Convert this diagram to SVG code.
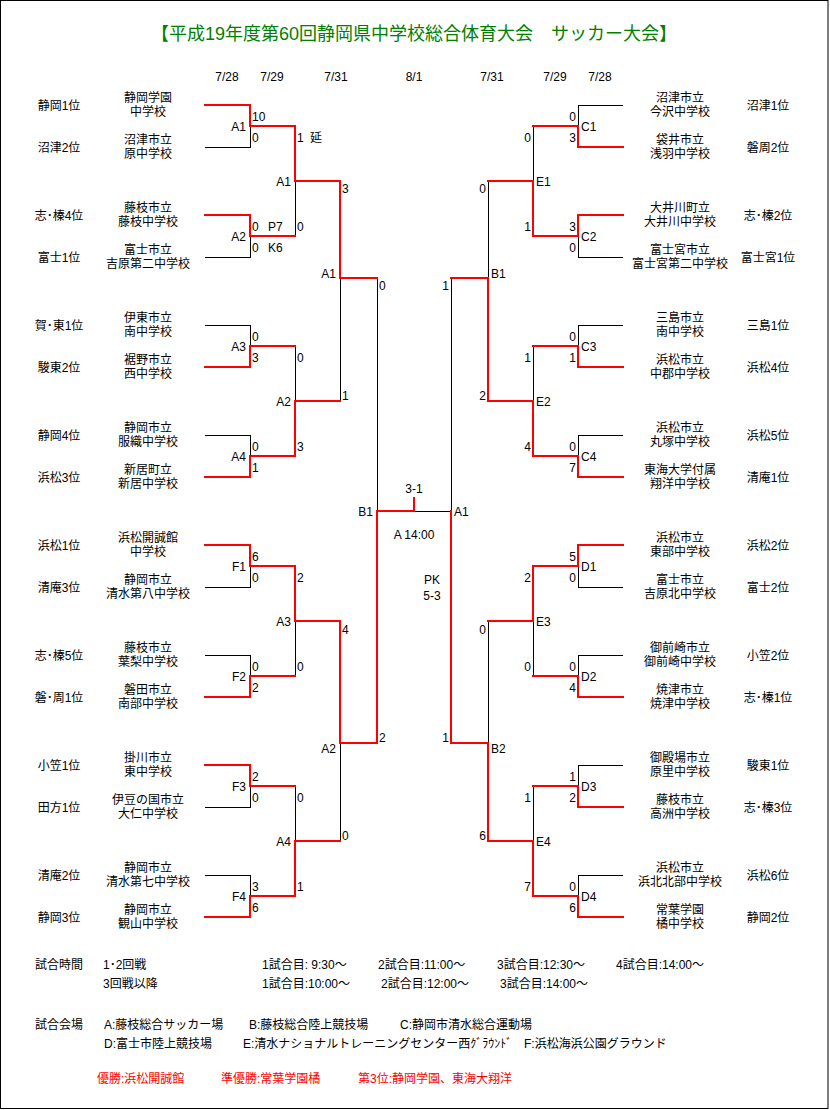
<svg xmlns="http://www.w3.org/2000/svg" width="830" height="1110" viewBox="0 0 830 1110">
<style>
text{font-family:"Liberation Sans","Noto Sans CJK JP",sans-serif;font-size:12px;fill:#000}
.m{text-anchor:middle}
.e{text-anchor:end}
.ttl{font-size:18px;fill:#008000;text-anchor:middle}
.red{fill:#ff0000}
.k{fill:none;stroke:#000;stroke-width:1}
.r{fill:none;stroke:#ff0000;stroke-width:2;stroke-linecap:square}
</style>
<rect x="0" y="0" width="830" height="1110" fill="#fff"/>
<rect x="0.5" y="0.5" width="827.5" height="1108" fill="none" stroke="#000" stroke-width="1"/>
<text id="title" class="ttl" x="414" y="40">【平成19年度第60回静岡県中学校総合体育大会　サッカー大会】</text>
<g id="dates" class="m">
<text class="m" x="227" y="81">7/28</text><text class="m" x="272" y="81">7/29</text><text class="m" x="336" y="81">7/31</text><text class="m" x="414" y="81">8/1</text>
<text class="m" x="492" y="81">7/31</text><text class="m" x="555" y="81">7/29</text><text class="m" x="600" y="81">7/28</text>
</g>
<g id="connectors" shape-rendering="crispEdges">
<path class="k" d="M205,147H250V126 M205,257H250V236 M205,325H250V346 M205,435H250V456 M205,587H250V566 M205,655H250V676 M205,807H250V786 M205,875H250V896
M295,236V181 M295,346V401 M295,676V621 M295,786V841 M340,401V278 M340,841V743 M377,278V511 M414,511H451
M623,105H578V126 M623,257H578V236 M623,325H578V346 M623,435H578V456 M623,587H578V566 M623,655H578V676 M623,765H578V786 M623,875H578V896
M533,126V181 M533,346V401 M533,676V621 M533,786V841 M488,181V278 M488,621V743 M451,278V511"/>
<path class="r" d="M205,105H250V126H295 M205,215H250V236H295 M205,367H250V346H295 M205,477H250V456H295 M205,545H250V566H295 M205,697H250V676H295 M205,765H250V786H295 M205,917H250V896H295
M295,126V181H340 M295,456V401H340 M295,566V621H340 M295,896V841H340 M340,181V278H377 M340,621V743H377 M377,743V511H414V498
M623,147H578V126H533 M623,215H578V236H533 M623,367H578V346H533 M623,477H578V456H533 M623,545H578V566H533 M623,697H578V676H533 M623,807H578V786H533 M623,917H578V896H533
M533,236V181H488 M533,456V401H488 M533,566V621H488 M533,896V841H488 M488,401V278H451 M488,841V743H451 M451,743V511"/>
</g>
<g id="teams-left">
<g id="L1"><text class="m" x="59" y="110">静岡1位</text><text class="m" x="148" y="102">静岡学園</text><text class="m" x="148" y="116">中学校</text></g>
<g id="L2"><text class="m" x="59" y="152">沼津2位</text><text class="m" x="148" y="144">沼津市立</text><text class="m" x="148" y="158">原中学校</text></g>
<g id="L3"><text class="m" x="59" y="220">志･榛4位</text><text class="m" x="148" y="212">藤枝市立</text><text class="m" x="148" y="226">藤枝中学校</text></g>
<g id="L4"><text class="m" x="59" y="262">富士1位</text><text class="m" x="148" y="254">富士市立</text><text class="m" x="148" y="268">吉原第二中学校</text></g>
<g id="L5"><text class="m" x="59" y="330">賀･東1位</text><text class="m" x="148" y="322">伊東市立</text><text class="m" x="148" y="336">南中学校</text></g>
<g id="L6"><text class="m" x="59" y="372">駿東2位</text><text class="m" x="148" y="364">裾野市立</text><text class="m" x="148" y="378">西中学校</text></g>
<g id="L7"><text class="m" x="59" y="440">静岡4位</text><text class="m" x="148" y="432">静岡市立</text><text class="m" x="148" y="446">服織中学校</text></g>
<g id="L8"><text class="m" x="59" y="482">浜松3位</text><text class="m" x="148" y="474">新居町立</text><text class="m" x="148" y="488">新居中学校</text></g>
<g id="L9"><text class="m" x="59" y="550">浜松1位</text><text class="m" x="148" y="542">浜松開誠館</text><text class="m" x="148" y="556">中学校</text></g>
<g id="L10"><text class="m" x="59" y="592">清庵3位</text><text class="m" x="148" y="584">静岡市立</text><text class="m" x="148" y="598">清水第八中学校</text></g>
<g id="L11"><text class="m" x="59" y="660">志･榛5位</text><text class="m" x="148" y="652">藤枝市立</text><text class="m" x="148" y="666">葉梨中学校</text></g>
<g id="L12"><text class="m" x="59" y="702">磐･周1位</text><text class="m" x="148" y="694">磐田市立</text><text class="m" x="148" y="708">南部中学校</text></g>
<g id="L13"><text class="m" x="59" y="770">小笠1位</text><text class="m" x="148" y="762">掛川市立</text><text class="m" x="148" y="776">東中学校</text></g>
<g id="L14"><text class="m" x="59" y="812">田方1位</text><text class="m" x="148" y="804">伊豆の国市立</text><text class="m" x="148" y="818">大仁中学校</text></g>
<g id="L15"><text class="m" x="59" y="880">清庵2位</text><text class="m" x="148" y="872">静岡市立</text><text class="m" x="148" y="886">清水第七中学校</text></g>
<g id="L16"><text class="m" x="59" y="922">静岡3位</text><text class="m" x="148" y="914">静岡市立</text><text class="m" x="148" y="928">観山中学校</text></g>
</g>
<g id="teams-right">
<g id="R1"><text class="m" x="768" y="110">沼津1位</text><text class="m" x="680" y="102">沼津市立</text><text class="m" x="680" y="116">今沢中学校</text></g>
<g id="R2"><text class="m" x="768" y="152">磐周2位</text><text class="m" x="680" y="144">袋井市立</text><text class="m" x="680" y="158">浅羽中学校</text></g>
<g id="R3"><text class="m" x="768" y="220">志･榛2位</text><text class="m" x="680" y="212">大井川町立</text><text class="m" x="680" y="226">大井川中学校</text></g>
<g id="R4"><text class="m" x="768" y="262">富士宮1位</text><text class="m" x="680" y="254">富士宮市立</text><text class="m" x="680" y="268">富士宮第二中学校</text></g>
<g id="R5"><text class="m" x="768" y="330">三島1位</text><text class="m" x="680" y="322">三島市立</text><text class="m" x="680" y="336">南中学校</text></g>
<g id="R6"><text class="m" x="768" y="372">浜松4位</text><text class="m" x="680" y="364">浜松市立</text><text class="m" x="680" y="378">中郡中学校</text></g>
<g id="R7"><text class="m" x="768" y="440">浜松5位</text><text class="m" x="680" y="432">浜松市立</text><text class="m" x="680" y="446">丸塚中学校</text></g>
<g id="R8"><text class="m" x="768" y="482">清庵1位</text><text class="m" x="680" y="474">東海大学付属</text><text class="m" x="680" y="488">翔洋中学校</text></g>
<g id="R9"><text class="m" x="768" y="550">浜松2位</text><text class="m" x="680" y="542">浜松市立</text><text class="m" x="680" y="556">東部中学校</text></g>
<g id="R10"><text class="m" x="768" y="592">富士2位</text><text class="m" x="680" y="584">富士市立</text><text class="m" x="680" y="598">吉原北中学校</text></g>
<g id="R11"><text class="m" x="768" y="660">小笠2位</text><text class="m" x="680" y="652">御前崎市立</text><text class="m" x="680" y="666">御前崎中学校</text></g>
<g id="R12"><text class="m" x="768" y="702">志･榛1位</text><text class="m" x="680" y="694">焼津市立</text><text class="m" x="680" y="708">焼津中学校</text></g>
<g id="R13"><text class="m" x="768" y="770">駿東1位</text><text class="m" x="680" y="762">御殿場市立</text><text class="m" x="680" y="776">原里中学校</text></g>
<g id="R14"><text class="m" x="768" y="812">志･榛3位</text><text class="m" x="680" y="804">藤枝市立</text><text class="m" x="680" y="818">高洲中学校</text></g>
<g id="R15"><text class="m" x="768" y="880">浜松6位</text><text class="m" x="680" y="872">浜松市立</text><text class="m" x="680" y="886">浜北北部中学校</text></g>
<g id="R16"><text class="m" x="768" y="922">静岡2位</text><text class="m" x="680" y="914">常葉学園</text><text class="m" x="680" y="928">橘中学校</text></g>
</g>
<g id="matches-left-r1">
<g id="mA1"><text class="e" x="246" y="131">A1</text><text x="252" y="121">10</text><text x="252" y="142">0</text></g>
<g id="mA2"><text class="e" x="246" y="241">A2</text><text x="252" y="231">0</text><text x="268" y="231">P7</text><text x="252" y="252">0</text><text x="268" y="252">K6</text></g>
<g id="mA3"><text class="e" x="246" y="351">A3</text><text x="252" y="341">0</text><text x="252" y="362">3</text></g>
<g id="mA4"><text class="e" x="246" y="461">A4</text><text x="252" y="451">0</text><text x="252" y="472">1</text></g>
<g id="mF1"><text class="e" x="246" y="571">F1</text><text x="252" y="561">6</text><text x="252" y="582">0</text></g>
<g id="mF2"><text class="e" x="246" y="681">F2</text><text x="252" y="671">0</text><text x="252" y="692">2</text></g>
<g id="mF3"><text class="e" x="246" y="791">F3</text><text x="252" y="781">2</text><text x="252" y="802">0</text></g>
<g id="mF4"><text class="e" x="246" y="901">F4</text><text x="252" y="891">3</text><text x="252" y="912">6</text></g>
</g>
<g id="matches-left-r2">
<g id="mA1b"><text class="e" x="291" y="186">A1</text><text x="297" y="142">1</text><text x="310" y="142">延</text><text x="297" y="231">0</text></g>
<g id="mA2b"><text class="e" x="291" y="406">A2</text><text x="297" y="362">0</text><text x="297" y="451">3</text></g>
<g id="mA3b"><text class="e" x="291" y="626">A3</text><text x="297" y="582">2</text><text x="297" y="671">0</text></g>
<g id="mA4b"><text class="e" x="291" y="846">A4</text><text x="297" y="802">0</text><text x="297" y="891">1</text></g>
</g>
<g id="matches-left-r3">
<g id="mA1c"><text class="e" x="336" y="278">A1</text><text x="342" y="193">3</text><text x="342" y="400">1</text></g>
<g id="mA2c"><text class="e" x="336" y="753">A2</text><text x="342" y="634">4</text><text x="342" y="840">0</text></g>
<g id="mB1"><text class="e" x="373" y="516">B1</text><text x="379" y="290">0</text><text x="379" y="742">2</text></g>
</g>
<g id="final">
<text class="m" x="414" y="493">3-1</text>
<text class="m" x="414" y="539">A 14:00</text>
<text class="m" x="432" y="584">PK</text>
<text class="m" x="432" y="600">5-3</text>
</g>
<g id="matches-right-r1">
<g id="mC1"><text x="581" y="131">C1</text><text class="e" x="576" y="121">0</text><text class="e" x="576" y="142">3</text></g>
<g id="mC2"><text x="581" y="241">C2</text><text class="e" x="576" y="231">3</text><text class="e" x="576" y="252">0</text></g>
<g id="mC3"><text x="581" y="351">C3</text><text class="e" x="576" y="341">0</text><text class="e" x="576" y="362">1</text></g>
<g id="mC4"><text x="581" y="461">C4</text><text class="e" x="576" y="451">0</text><text class="e" x="576" y="472">7</text></g>
<g id="mD1"><text x="581" y="571">D1</text><text class="e" x="576" y="561">5</text><text class="e" x="576" y="582">0</text></g>
<g id="mD2"><text x="581" y="681">D2</text><text class="e" x="576" y="671">0</text><text class="e" x="576" y="692">4</text></g>
<g id="mD3"><text x="581" y="791">D3</text><text class="e" x="576" y="781">1</text><text class="e" x="576" y="802">2</text></g>
<g id="mD4"><text x="581" y="901">D4</text><text class="e" x="576" y="891">0</text><text class="e" x="576" y="912">6</text></g>
</g>
<g id="matches-right-r2">
<g id="mE1"><text x="536" y="186">E1</text><text class="e" x="531" y="142">0</text><text class="e" x="531" y="231">1</text></g>
<g id="mE2"><text x="536" y="406">E2</text><text class="e" x="531" y="362">1</text><text class="e" x="531" y="451">4</text></g>
<g id="mE3"><text x="536" y="626">E3</text><text class="e" x="531" y="582">2</text><text class="e" x="531" y="671">0</text></g>
<g id="mE4"><text x="536" y="846">E4</text><text class="e" x="531" y="802">1</text><text class="e" x="531" y="891">7</text></g>
</g>
<g id="matches-right-r3">
<g id="mB1r"><text x="491" y="278">B1</text><text class="e" x="486" y="193">0</text><text class="e" x="486" y="400">2</text></g>
<g id="mB2r"><text x="491" y="753">B2</text><text class="e" x="486" y="634">0</text><text class="e" x="486" y="840">6</text></g>
<g id="mA1r"><text x="454" y="516">A1</text><text class="e" x="449" y="290">1</text><text class="e" x="449" y="742">1</text></g>
</g>
<g id="notes">
<text x="35" y="969">試合時間</text>
<text x="103" y="969">1･2回戦</text>
<text x="262" y="969">1試合目: 9:30～</text>
<text x="378" y="969">2試合目:11:00～</text>
<text x="497" y="969">3試合目:12:30～</text>
<text x="616" y="969">4試合目:14:00～</text>
<text x="103" y="988">3回戦以降</text>
<text x="262" y="988">1試合目:10:00～</text>
<text x="381" y="988">2試合目:12:00～</text>
<text x="500" y="988">3試合目:14:00～</text>
<text x="35" y="1029">試合会場</text>
<text x="104" y="1029">A:藤枝総合サッカー場</text>
<text x="249" y="1029">B:藤枝総合陸上競技場</text>
<text x="400" y="1029">C:静岡市清水総合運動場</text>
<text x="104" y="1048">D:富士市陸上競技場</text>
<text x="243" y="1048">E:清水ナショナルトレーニングセンター西ｸﾞﾗｳﾝﾄﾞ</text>
<text x="524" y="1048">F:浜松海浜公園グラウンド</text>
<text class="red" x="97" y="1083">優勝:浜松開誠館</text>
<text class="red" x="221" y="1083">準優勝:常葉学園橘</text>
<text class="red" x="358" y="1083">第3位:静岡学園、東海大翔洋</text>
</g>
</svg>
